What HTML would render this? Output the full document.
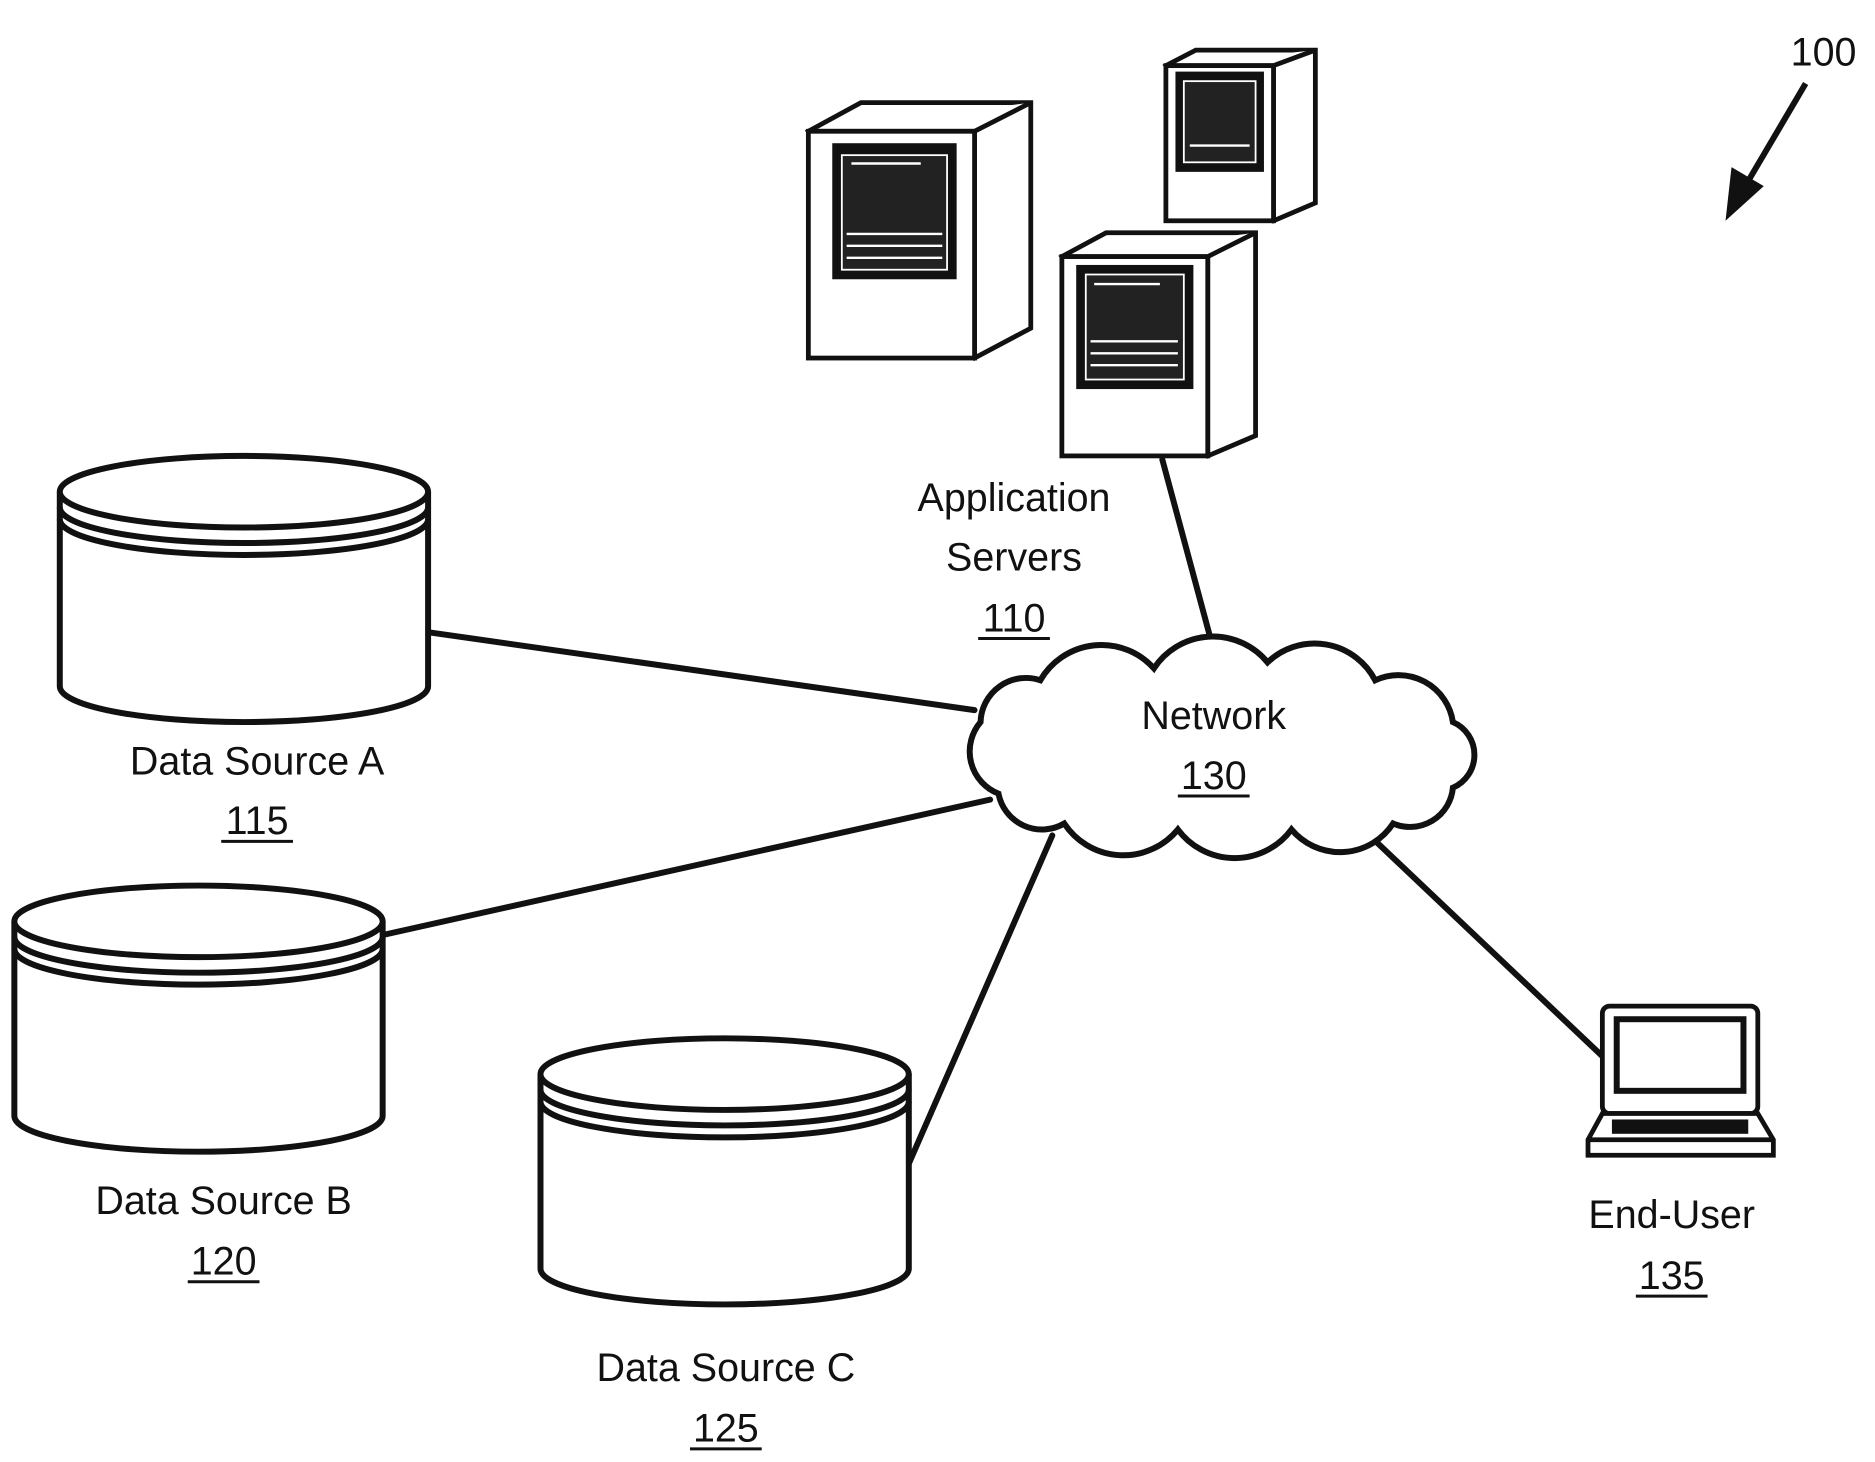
<!DOCTYPE html>
<html><head><meta charset="utf-8"><style>
html,body{margin:0;padding:0;background:#fff;}
svg{display:block;}
text{font-family:"Liberation Sans",sans-serif;font-size:33px;fill:#111;}
</style></head><body>
<svg width="1875" height="1462" viewBox="0 0 1568 1225" preserveAspectRatio="none" xmlns="http://www.w3.org/2000/svg">
<g stroke="#111" stroke-width="5" fill="none" stroke-linecap="round">
<line x1="360" y1="530" x2="815" y2="595"/>
<line x1="322" y1="783" x2="828" y2="670"/>
<line x1="760" y1="975" x2="880" y2="700"/>
<line x1="972" y1="385" x2="1015" y2="545"/>
<line x1="1140" y1="695" x2="1340" y2="885"/>
</g>
<g stroke="#111" stroke-width="5" fill="#fff">
<g>
<path d="M50,412 L50,575 A154,30 0 0 0 358,575 L358,412"/>
<ellipse cx="204" cy="412" rx="154" ry="30"/>
<path d="M50,425 A154,30 0 0 0 358,425" fill="none"/>
<path d="M50,435 A154,30 0 0 0 358,435" fill="none"/>
</g>
<g>
<path d="M12,772 L12,935 A154,30 0 0 0 320,935 L320,772"/>
<ellipse cx="166" cy="772" rx="154" ry="30"/>
<path d="M12,785 A154,30 0 0 0 320,785" fill="none"/>
<path d="M12,795 A154,30 0 0 0 320,795" fill="none"/>
</g>
<g>
<path d="M452,900 L452,1063 A154,30 0 0 0 760,1063 L760,900"/>
<ellipse cx="606" cy="900" rx="154" ry="30"/>
<path d="M452,913 A154,30 0 0 0 760,913" fill="none"/>
<path d="M452,923 A154,30 0 0 0 760,923" fill="none"/>
</g>
</g>
<path d="M820,605 A38,38 0 0 1 870,570 A59,59 0 0 1 965,560 A59,59 0 0 1 1060,555 A57,57 0 0 1 1150,570 A46,46 0 0 1 1215,605 A30,30 0 0 1 1215,660 A36,36 0 0 1 1165,690 A53,53 0 0 1 1080,695 A59,59 0 0 1 985,695 A59,59 0 0 1 890,690 A37,37 0 0 1 835,665 A38,38 0 0 1 820,605 Z" fill="#fff" stroke="#111" stroke-width="5"/>
<g stroke="#111" stroke-width="4" fill="#fff">
<g>
<path d="M676,110 L720,86 L862,86 L862,275 L815,300 Z"/>
<path d="M676,110 L815,110 L862,86 M815,110 L815,300"/>
<rect x="676" y="110" width="139" height="190"/>
<rect x="698" y="122" width="100" height="110" fill="#111"/>
<rect x="704" y="130" width="88" height="96" fill="#222" stroke="#fff" stroke-width="1.5"/>
<g stroke="#fff" stroke-width="2"><line x1="708" y1="196" x2="788" y2="196"/><line x1="708" y1="206" x2="788" y2="206"/><line x1="708" y1="216" x2="788" y2="216"/><line x1="712" y1="137" x2="770" y2="137"/></g>
</g>
<g>
<path d="M975,55 L1000,42 L1100,42 L1100,170 L1065,185 Z"/>
<path d="M975,55 L1065,55 L1100,42 M1065,55 L1065,185"/>
<rect x="975" y="55" width="90" height="130"/>
<rect x="985" y="62" width="70" height="80" fill="#111"/>
<rect x="990" y="68" width="60" height="68" fill="#222" stroke="#fff" stroke-width="1.5"/>
<g stroke="#fff" stroke-width="2"><line x1="995" y1="122" x2="1045" y2="122"/></g>
</g>
<g>
<path d="M888,215 L925,195 L1050,195 L1050,365 L1010,382 Z"/>
<path d="M888,215 L1010,215 L1050,195 M1010,215 L1010,382"/>
<rect x="888" y="215" width="122" height="167"/>
<rect x="902" y="224" width="94" height="100" fill="#111"/>
<rect x="908" y="230" width="82" height="88" fill="#222" stroke="#fff" stroke-width="1.5"/>
<g stroke="#fff" stroke-width="2"><line x1="912" y1="286" x2="985" y2="286"/><line x1="912" y1="296" x2="985" y2="296"/><line x1="912" y1="306" x2="985" y2="306"/><line x1="915" y1="238" x2="970" y2="238"/></g>
</g>
</g>
<g stroke="#111" stroke-width="4" fill="#fff">
<rect x="1340" y="843" width="130" height="90" rx="6"/>
<rect x="1352" y="854" width="106" height="60" stroke-width="5"/>
<path d="M1340,933 L1328,955 L1328,968 L1483,968 L1483,955 L1470,933 Z"/>
<rect x="1350" y="940" width="110" height="8" fill="#111"/>
<line x1="1328" y1="955" x2="1483" y2="955"/>
</g>
<line x1="1510" y1="70" x2="1460" y2="155" stroke="#111" stroke-width="5"/>
<polygon points="1443,185 1448,140 1475,156" fill="#111"/>
<g text-anchor="middle">
<text x="1525" y="55">100</text>
<text x="848" y="428">Application</text>
<text x="848" y="478">Servers</text>
<text x="848" y="529">110</text>
<text x="1015" y="611">Network</text>
<text x="1015" y="661">130</text>
<text x="215" y="649">Data Source A</text>
<text x="215" y="699">115</text>
<text x="187" y="1017">Data Source B</text>
<text x="187" y="1068">120</text>
<text x="607" y="1157">Data Source C</text>
<text x="607" y="1208">125</text>
<text x="1398" y="1029">End-User</text>
<text x="1398" y="1080">135</text>
</g>
<g stroke="#111" stroke-width="2.5">
<line x1="818" y1="535" x2="878" y2="535"/>
<line x1="985" y1="667" x2="1045" y2="667"/>
<line x1="185" y1="705" x2="245" y2="705"/>
<line x1="157" y1="1074" x2="217" y2="1074"/>
<line x1="577" y1="1214" x2="637" y2="1214"/>
<line x1="1368" y1="1086" x2="1428" y2="1086"/>
</g>
</svg>
</body></html>
